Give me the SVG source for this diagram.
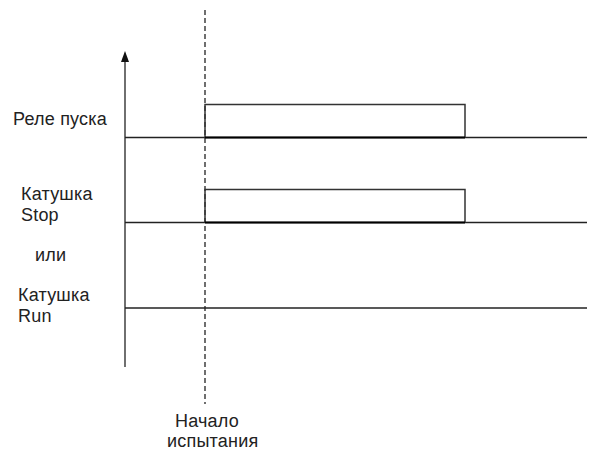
<svg xmlns="http://www.w3.org/2000/svg" width="594" height="450" viewBox="0 0 594 450">
<style>
text{font-family:"Liberation Sans",Arial,sans-serif;font-size:18px;fill:#222;letter-spacing:0.2px}
.ln{stroke:#222;stroke-width:1.3;fill:none}
.pulse{stroke:#333;stroke-width:1.5;fill:none}
.dash{stroke:#222;stroke-width:1.3;stroke-dasharray:5,3;fill:none}
</style>
<rect width="594" height="450" fill="#fff"/>
<g id="connectors">
<line id="axis" class="ln" x1="125" y1="367" x2="125" y2="60"/>
<polygon id="axis-head" points="125,51 121,62 129,62" fill="#111"/>
<line id="start-line" class="dash" x1="205" y1="10" x2="205" y2="404"/>
</g>
<g id="row-rele">
<text x="13" y="125">Реле пуска</text>
<line class="ln" x1="125" y1="137.5" x2="587" y2="137.5"/>
<polyline class="pulse" points="205,137.5 205,104.5 465,104.5 465,137.5"/>
<line x1="205" y1="137.5" x2="465" y2="137.5" stroke="#000" stroke-width="2"/>
</g>
<g id="row-stop">
<text x="21" y="200">Катушка</text>
<text x="21" y="221">Stop</text>
<line class="ln" x1="125" y1="222.5" x2="587" y2="222.5"/>
<polyline class="pulse" points="205,222.5 205,189.5 465,189.5 465,222.5"/>
<line x1="205" y1="222.5" x2="465" y2="222.5" stroke="#000" stroke-width="2"/>
</g>
<g id="or-label">
<text x="35" y="261">или</text>
</g>
<g id="row-run">
<text x="18" y="301">Катушка</text>
<text x="18" y="322">Run</text>
<line class="ln" x1="125" y1="308" x2="587" y2="308"/>
</g>
<g id="start-label">
<text x="175" y="427">Начало</text>
<text x="167" y="447">испытания</text>
</g>
</svg>
